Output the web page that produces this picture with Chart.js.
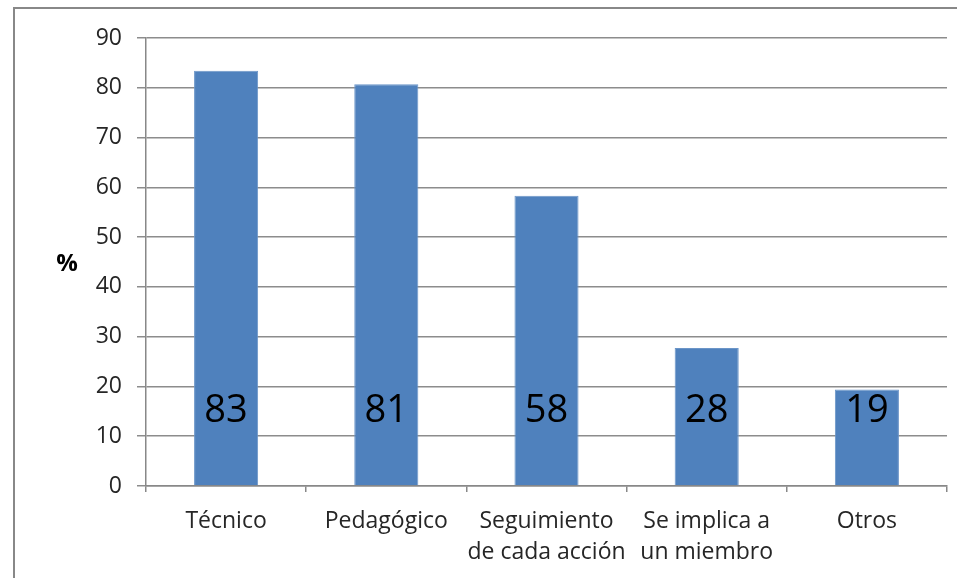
<!DOCTYPE html>
<html>
<head>
<meta charset="utf-8">
<script src="https://cdn.jsdelivr.net/npm/chart.js@4/dist/chart.umd.min.js"></script>
<style>
  html, body { margin: 0; padding: 0; background: #fff; }
  #wrap { position: relative; width: 957px; height: 578px; overflow: hidden; }
  #frame { position: absolute; left: 13px; top: 7px; width: 960px; height: 600px;
           border-left: 2px solid #888; border-top: 2px solid #888; box-sizing: border-box; }
  #c { position: absolute; left: 0; top: 0; }
</style>
</head>
<body>
<div id="wrap">
  <div id="frame"></div>
  <canvas id="c" width="957" height="578"></canvas>
</div>
<script>
// ---- data ----
const categories = ["Técnico", "Pedagógico", ["Seguimiento", "de cada acción"], ["Se implica a", "un miembro"], "Otros"];
const values = [83.4, 80.7, 58.3, 27.7, 19.4];
const valueLabels = ["83", "81", "58", "28", "19"];
const yTicks = [0, 10, 20, 30, 40, 50, 60, 70, 80, 90];
const yAxisLabel = "%";

const FONT = "'Open Sans', 'Liberation Sans', sans-serif";

const labelPlugin = {
  id: 'valueLabels',
  afterDatasetsDraw(chart) {
    const ctx = chart.ctx;
    const meta = chart.getDatasetMeta(0);
    const yScale = chart.scales.y;
    const yPos = yScale.getPixelForValue(15.0);
    ctx.save();
    ctx.fillStyle = '#000';
    ctx.font = "38px " + FONT;
    ctx.textAlign = 'center';
    ctx.textBaseline = 'middle';
    meta.data.forEach((bar, i) => {
      ctx.fillText(valueLabels[i], bar.x, yPos);
    });
    // y axis label
    ctx.font = "bold 24px " + FONT;
    ctx.fillStyle = '#000';
    ctx.fillText(yAxisLabel, 67, yScale.getPixelForValue(44.5));
    ctx.restore();
  }
};

new Chart(document.getElementById('c'), {
  type: 'bar',
  data: {
    labels: categories,
    datasets: [{
      data: values,
      backgroundColor: '#4F81BD',
      borderColor: '#6b95c8',
      borderWidth: 1,
      barPercentage: 0.4,
      categoryPercentage: 1.0
    }]
  },
  options: {
    responsive: false,
    animation: false,
    devicePixelRatio: 1,
    layout: { padding: { left: 0, top: 38, right: 10, bottom: 0 } },
    plugins: { legend: { display: false }, tooltip: { enabled: false } },
    scales: {
      x: {
        offset: true,
        grid: { offset: true, drawOnChartArea: false, drawTicks: true, tickLength: 6, color: '#888', lineWidth: 1.5 },
        border: { display: true, color: '#888', width: 1.5 },
        ticks: { color: '#262626', font: { family: FONT, size: 23, lineHeight: 1.35 }, padding: 14, maxRotation: 0, autoSkip: false },
        afterFit(scale) { scale.height = 92; }
      },
      y: {
        min: 0, max: 90,
        afterBuildTicks(scale) { scale.ticks = yTicks.map(v => ({ value: v })); },
        grid: { color: '#8c8c8c', lineWidth: 1.5, tickLength: 9 },
        border: { display: true, color: '#888', width: 1.5 },
        ticks: { color: '#262626', font: { family: FONT, size: 23 }, padding: 15 },
        afterFit(scale) { scale.width = 146; }
      }
    }
  },
  plugins: [labelPlugin]
});
</script>
</body>
</html>
